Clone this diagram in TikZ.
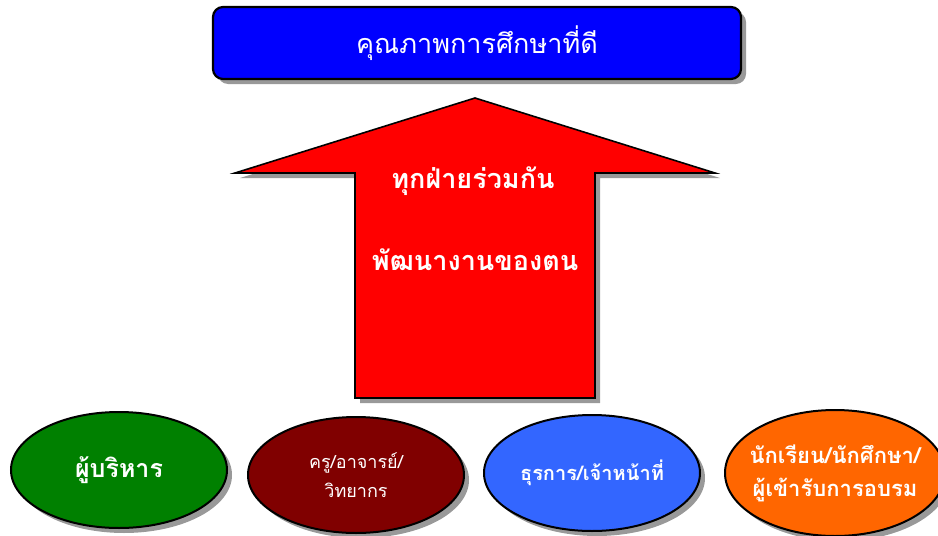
\documentclass[tikz,border=0pt]{standalone}
\usepackage{fontspec}
\newfontfamily\thaifont[Script=Thai]{Loma}
\usetikzlibrary{shadows,shapes.geometric}
\definecolor{topblue}{RGB}{0,0,255}
\definecolor{arrred}{RGB}{255,0,0}
\definecolor{egreen}{RGB}{0,128,0}
\definecolor{emaroon}{RGB}{128,0,0}
\definecolor{eblue}{RGB}{51,102,255}
\definecolor{eorange}{RGB}{255,102,0}
\definecolor{shadowgray}{RGB}{128,128,128}
\tikzset{
  shd/.style={drop shadow={shadow xshift=5pt, shadow yshift=-5pt, fill=shadowgray, opacity=0.8}},
  oval/.style={ellipse, draw=black, line width=2pt, shd, minimum width=216pt, minimum height=116pt, inner sep=-25pt, align=center, text=white},
  wtxt/.style={text=white, font=\thaifont\bfseries, align=center}
}
\begin{document}
\begin{tikzpicture}[x=1pt,y=-1pt]
\useasboundingbox (0,0) rectangle (938,536);
% top box
\node[draw=black, line width=2.2pt, fill=topblue, rounded corners=10pt, shd,
      minimum width=528pt, minimum height=72pt, wtxt, font=\thaifont\fontsize{27}{30}\selectfont]
  (top) at (477,43) {คุณภาพการศึกษาที่ดี};
% arrow
\draw[fill=arrred, draw=black, line width=1.6pt, shd]
  (475,98) -- (715,173) -- (595,173) -- (595,398) -- (355,398) -- (355,173) -- (235,173) -- cycle;
\node[wtxt, font=\thaifont\bfseries\fontsize{27}{30}\selectfont] (t1) at (473,181) {ทุกฝ่ายร่วมกัน};
\node[wtxt, font=\thaifont\bfseries\fontsize{27}{30}\selectfont] (t2) at (475,260) {พัฒนางานของตน};
% ellipses
\node[oval, fill=egreen, font=\thaifont\bfseries\fontsize{25}{28}\selectfont] (e1) at (119,470) {ผู้บริหาร};
\node[oval, fill=emaroon, font=\thaifont\fontsize{18}{29}\selectfont] (e2) at (356,475) {ครู/อาจารย์/\\วิทยากร};
\node[oval, fill=eblue, font=\thaifont\bfseries\fontsize{20}{26}\selectfont] (e3) at (592,473) {ธุรการ/เจ้าหน้าที่};
\node[oval, fill=eorange, minimum width=220pt, minimum height=126pt, font=\thaifont\bfseries\fontsize{22}{33}\selectfont] (e4) at (835,473) {นักเรียน/นักศึกษา/\\ผู้เข้ารับการอบรม};
\end{tikzpicture}
\end{document}
